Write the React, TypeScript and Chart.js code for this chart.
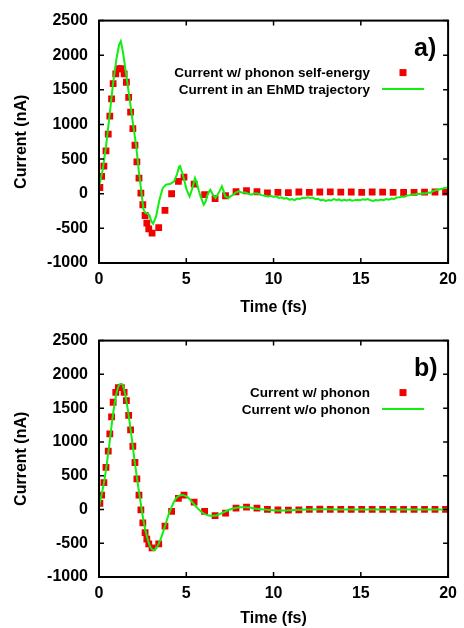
import React, { useEffect, useRef } from 'react';
import { Chart, registerables } from 'chart.js';

Chart.register(...registerables);

const FONT = '"Liberation Sans", Arial, Helvetica, sans-serif';
const RED = '#f00000';
const GREEN = '#11ee11';

// Axis ticks
const xTicks = [0, 5, 10, 15, 20];
const yTicks = [-1000, -500, 0, 500, 1000, 1500, 2000, 2500];

// Red squares (same time grid in both panels)
const redTimes = [
  0.05, 0.15, 0.28, 0.4, 0.53, 0.62, 0.72, 0.81, 0.96, 1.11,
  1.28, 1.44, 1.57, 1.7, 1.81, 1.94, 2.06, 2.17, 2.29, 2.4,
  2.51, 2.64, 2.74, 2.85, 3.04, 3.42, 3.78, 4.16, 4.55, 4.87,
  5.45, 6.05, 6.65, 7.25, 7.85, 8.45, 9.05, 9.65, 10.25, 10.85,
  11.45, 12.05, 12.65, 13.25, 13.85, 14.45, 15.05, 15.65, 16.25, 16.85,
  17.45, 18.05, 18.65, 19.25, 19.85,
];

// Panel a) Current w/ phonon self-energy
const selfEnergyCurrent = [
  90, 250, 400, 620, 860, 1120, 1370, 1590, 1730, 1805,
  1805, 1730, 1610, 1390, 1180, 940, 700, 459, 227, 10,
  -159, -314, -425, -506, -569, -488, -241, 0, 178, 241,
  140, -14, -72, -29, 29, 43, 29, 14, 20, 15,
  25, 20, 25, 28, 22, 25, 20, 25, 22, 20,
  18, 20, 22, 25, 22,
];

// Panel a) Current in an EhMD trajectory
const ehmdTimes = [
  0, 0.2, 0.4, 0.6, 0.8, 1.0, 1.15, 1.25, 1.38, 1.57,
  1.76, 1.94, 2.13, 2.28, 2.42, 2.55, 2.65, 2.75, 2.89, 3.0,
  3.1, 3.27, 3.46, 3.65, 3.83, 4.1, 4.3, 4.46, 4.59, 4.65,
  4.83, 5.02, 5.19, 5.35, 5.5, 5.6, 5.7, 5.82, 6.0, 6.1,
  6.19, 6.3, 6.38, 6.52, 6.67, 6.8, 6.9, 7.04, 7.15, 7.23,
  7.42, 7.55, 7.7, 7.85, 7.99, 8.2, 8.37, 8.55, 8.74, 8.9,
  9.1, 9.3, 9.5, 9.7, 9.85, 10.0, 10.15, 10.3, 10.45, 10.6,
  10.75, 10.9, 11.05, 11.2, 11.35, 11.5, 11.65, 11.8, 11.95, 12.1,
  12.25, 12.4, 12.55, 12.7, 12.85, 13.0, 13.15, 13.3, 13.45, 13.6,
  13.75, 13.9, 14.05, 14.2, 14.35, 14.5, 14.65, 14.8, 14.95, 15.1,
  15.25, 15.4, 15.55, 15.7, 15.85, 16.0, 16.15, 16.3, 16.45, 16.6,
  16.75, 16.9, 17.05, 17.2, 17.35, 17.5, 17.65, 17.8, 17.95, 18.1,
  18.25, 18.4, 18.55, 18.7, 18.85, 19.0, 19.15, 19.3, 19.45, 19.6,
  19.75, 19.9, 20.0,
];
const ehmdCurrent = [
  100, 330, 680, 1120, 1580, 1950, 2150, 2204, 2036, 1698,
  1360, 1023, 690, 330, 40, -230, -275, -285, -310, -400,
  -434, -328, -90, 80, 130, 145, 178, 275, 390, 400,
  250, 58, -39, 80, 227, 160, 60, -39, -159, -120,
  -39, 30, 58, -14, -62, -10, 34, 106, 30, -39,
  -62, -35, -14, 20, 34, 15, 19, 0, -14, 5,
  5, -20, -30, -39, -30, -45, -38, -60, -52, -70,
  -62, -85, -78, -92, -70, -75, -58, -66, -50, -62,
  -55, -80, -72, -95, -88, -105, -90, -98, -78, -90,
  -82, -100, -88, -96, -85, -100, -92, -86, -95, -80,
  -88, -76, -95, -104, -90, -98, -84, -92, -78, -86,
  -70, -76, -55, -50, -40, -42, -25, -20, -10, -12,
  0, -4, 8, 5, 18, 15, 40, 50, 62, 68,
  80, 88, 95,
];

// Panel b) Current w/ phonon (red squares)
const withPhononCurrent = [
  90, 212, 396, 622, 863, 1119, 1370, 1587, 1732, 1804,
  1804, 1732, 1611, 1394, 1177, 936, 695, 453, 212, -5,
  -198, -342, -439, -511, -569, -511, -246, -29, 164, 212,
  110, -29, -92, -53, 19, 34, 19, 0, -8, -10,
  -5, 0, 3, 2, 0, 2, 0, 2, 0, 0,
  2, 0, 0, 2, 0,
];

// Panel b) Current w/o phonon (green line)
const noPhononTimes = [
  0, 0.15, 0.3, 0.45, 0.6, 0.75, 0.9, 1.05, 1.2, 1.3,
  1.45, 1.6, 1.75, 1.9, 2.05, 2.2, 2.35, 2.5, 2.65, 2.8,
  2.95, 3.1, 3.25, 3.4, 3.6, 3.8, 4.0, 4.2, 4.4, 4.6,
  4.8, 5.0, 5.2, 5.4, 5.6, 5.8, 6.0, 6.3, 6.6, 6.9,
  7.2, 7.5, 7.8, 8.1, 8.4, 8.7, 9.0, 9.5, 10.0, 10.5,
  11.0, 11.5, 12.0, 13.0, 14.0, 15.0, 16.0, 17.0, 18.0, 19.0,
  20.0,
];
const noPhononCurrent = [
  40, 220, 420, 680, 980, 1300, 1580, 1770, 1855, 1860,
  1760, 1560, 1300, 1010, 700, 420, 160, -90, -300, -450,
  -560, -600, -585, -520, -390, -230, -70, 60, 160, 205,
  215, 195, 150, 90, 30, -20, -60, -90, -95, -70,
  -35, 0, 22, 33, 34, 25, 12, -2, -12, -15,
  -10, -4, 0, 2, 0, 0, 0, 0, 0, 0,
  0,
];

const zip = (xs: number[], ys: number[]) => xs.map((x, i) => ({ x, y: ys[i] }));

type PanelDef = {
  tag: string;
  redLabel: string;
  greenLabel: string;
  red: { x: number; y: number }[];
  green: { x: number; y: number }[];
  smooth: boolean;
};

const framePlugin = {
  id: 'frame',
  afterDatasetsDraw(chart: any, _args: any, opts: any) {
    const { ctx, chartArea: a, scales } = chart;
    ctx.save();
    // inward ticks
    ctx.strokeStyle = '#000';
    ctx.lineWidth = 1.5;
    const tl = 5;
    ctx.beginPath();
    for (const v of xTicks) {
      const x = scales.x.getPixelForValue(v);
      ctx.moveTo(x, a.bottom);
      ctx.lineTo(x, a.bottom - tl);
      ctx.moveTo(x, a.top);
      ctx.lineTo(x, a.top + tl);
    }
    for (const v of yTicks) {
      const y = scales.y.getPixelForValue(v);
      ctx.moveTo(a.left, y);
      ctx.lineTo(a.left + tl, y);
      ctx.moveTo(a.right, y);
      ctx.lineTo(a.right - tl, y);
    }
    ctx.stroke();
    // frame
    ctx.lineWidth = 2;
    ctx.strokeRect(a.left, a.top, a.right - a.left, a.bottom - a.top);

    // legend
    ctx.fillStyle = '#000';
    ctx.font = `bold 13.5px ${FONT}`;
    ctx.textAlign = 'right';
    ctx.textBaseline = 'alphabetic';
    ctx.fillText(opts.redLabel, a.left + 271, a.top + 56.5);
    ctx.fillText(opts.greenLabel, a.left + 271, a.top + 73);
    ctx.fillStyle = RED;
    ctx.fillRect(a.left + 300.5, a.top + 48.5, 7, 7);
    ctx.strokeStyle = GREEN;
    ctx.lineWidth = 2;
    ctx.beginPath();
    ctx.moveTo(a.left + 283, a.top + 68.5);
    ctx.lineTo(a.left + 325, a.top + 68.5);
    ctx.stroke();

    // panel tag
    ctx.fillStyle = '#000';
    ctx.font = `bold 25px ${FONT}`;
    ctx.textAlign = 'left';
    ctx.fillText(opts.tag, a.left + 315, a.top + 35);
    ctx.restore();
  },
};

function makeConfig(p: PanelDef, canvasH: number, plotTop: number, plotBottom: number, xTitlePad: number): any {
  const tickFont = { family: FONT, size: 16, weight: 'bold' as const };
  return {
    type: 'line',
    data: {
      datasets: [
        {
          label: p.greenLabel,
          data: p.green,
          borderColor: GREEN,
          backgroundColor: GREEN,
          borderWidth: 2,
          pointRadius: 0,
          fill: false,
          tension: p.smooth ? 0.4 : 0,
          cubicInterpolationMode: p.smooth ? 'monotone' : 'default',
          order: 0,
        },
        {
          label: p.redLabel,
          data: p.red,
          showLine: false,
          pointStyle: 'rect',
          pointRadius: 4.8,
          pointBorderWidth: 0,
          pointBackgroundColor: RED,
          borderColor: RED,
          backgroundColor: RED,
          order: 1,
        },
      ],
    },
    options: {
      responsive: false,
      animation: false,
      maintainAspectRatio: false,
      layout: { padding: { left: 0, right: 12, top: plotTop, bottom: 0 } },
      plugins: {
        legend: { display: false },
        tooltip: { enabled: false },
        frame: { tag: p.tag, redLabel: p.redLabel, greenLabel: p.greenLabel },
      },
      scales: {
        x: {
          type: 'linear',
          min: 0,
          max: 20,
          afterBuildTicks: (s: any) => {
            s.ticks = xTicks.map((v) => ({ value: v }));
          },
          ticks: {
            font: tickFont,
            color: '#000',
            padding: 7,
            maxRotation: 0,
            autoSkip: false,
            callback: (v: any) => String(v),
          },
          grid: { display: false, drawTicks: false },
          border: { display: false },
          title: {
            display: true,
            text: 'Time (fs)',
            color: '#000',
            font: tickFont,
            padding: { top: 0, bottom: xTitlePad },
          },
          afterFit: (s: any) => {
            s.height = canvasH - plotBottom;
          },
        },
        y: {
          type: 'linear',
          min: -1000,
          max: 2500,
          afterBuildTicks: (s: any) => {
            s.ticks = yTicks.map((v) => ({ value: v }));
          },
          ticks: {
            font: tickFont,
            color: '#000',
            padding: 11,
            autoSkip: false,
            callback: (v: any) => String(v),
          },
          grid: { display: false, drawTicks: false },
          border: { display: false },
          title: {
            display: true,
            text: 'Current (nA)',
            color: '#000',
            font: tickFont,
            padding: { top: 12, bottom: 0 },
          },
          afterFit: (s: any) => {
            s.width = 99;
          },
        },
      },
    },
    plugins: [framePlugin],
  };
}

const panelA: PanelDef = {
  tag: 'a)',
  redLabel: 'Current w/ phonon self-energy',
  greenLabel: 'Current in an EhMD trajectory',
  red: zip(redTimes, selfEnergyCurrent),
  green: zip(ehmdTimes, ehmdCurrent),
  smooth: false,
};

const panelB: PanelDef = {
  tag: 'b)',
  redLabel: 'Current w/ phonon',
  greenLabel: 'Current w/o phonon',
  red: zip(redTimes, withPhononCurrent),
  green: zip(noPhononTimes, noPhononCurrent),
  smooth: true,
};

function Panel({ def, height, plotTop, plotBottom, xTitlePad }: { def: PanelDef; height: number; plotTop: number; plotBottom: number; xTitlePad: number }) {
  const ref = useRef<HTMLCanvasElement>(null);
  useEffect(() => {
    const chart = new Chart(ref.current as HTMLCanvasElement, makeConfig(def, height, plotTop, plotBottom, xTitlePad));
    return () => chart.destroy();
  }, []);
  return <canvas ref={ref} width={464} height={height} style={{ display: 'block', width: 464, height }} />;
}

export default function App() {
  return (
    <div style={{ position: 'absolute', left: 0, top: 0, width: 464, height: 628, background: '#fff' }}>
      <Panel def={panelA} height={320} plotTop={20} plotBottom={263} xTitlePad={3} />
      <Panel def={panelB} height={308} plotTop={15} plotBottom={257} xTitlePad={0} />
    </div>
  );
}
